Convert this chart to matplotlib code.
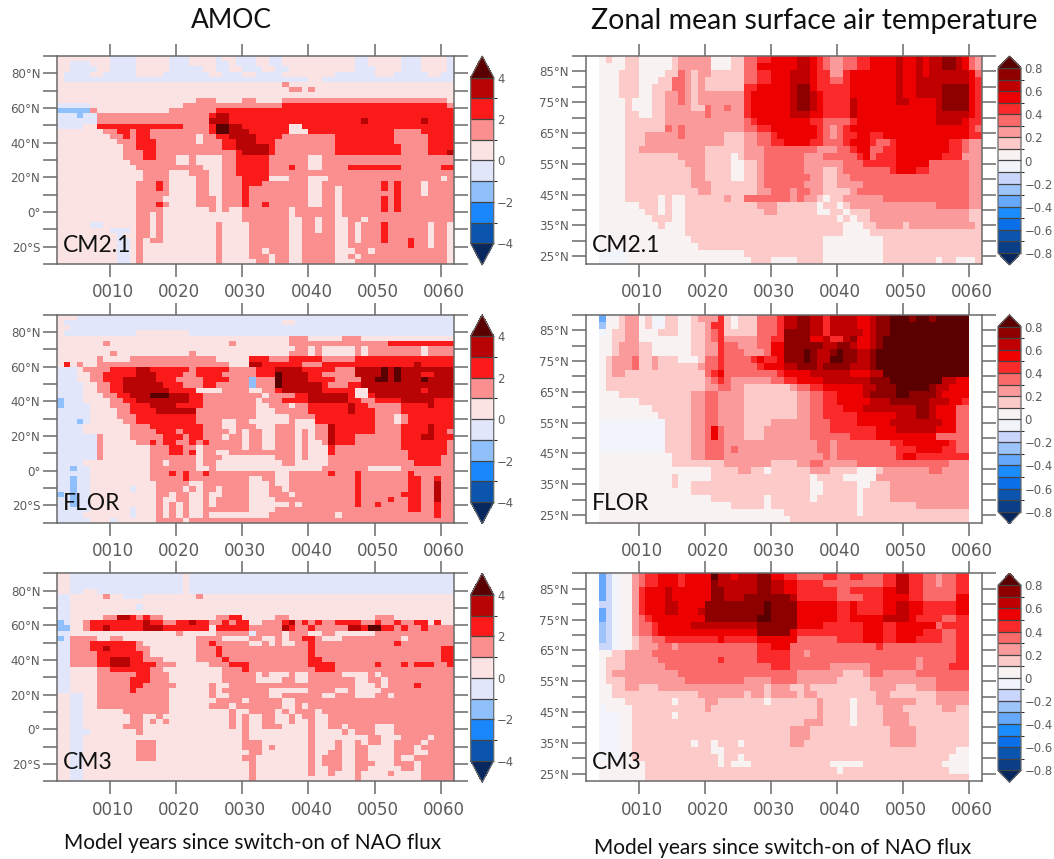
import numpy as np
import matplotlib
matplotlib.use("Agg")
import matplotlib.pyplot as plt
from matplotlib.colors import BoundaryNorm, ListedColormap
from matplotlib.transforms import ScaledTranslation

# each row runs north to south, tokens are <level code><last year of that run>
AMOC_CM21 = [
    "p10 b14 p19 b22 p26 b27 p29 b32 p34 b36 p47 b49 p54 b57 p61 b62",
    "p4 b7 p10 b14 p19 b22 p26 b28 p29 b32 p34 b36 p47 b49 p54 b57 p61 b62",
    "p4 b8 p10 b14 p19 b24 p26 b28 p30 b33 p35 b37 p47 b50 p54 b57 p61 b62",
    "p3 b7 p9 b14 p18 b25 p27 b30 p32 b36 p44 b50 p53 b58 p60 b62",
    "p3 b40 p42 b62",
    "p36 m37 p62",
    "p37 m39 p40 m41 p62",
    "p62",
    "p23 m26 p30 m32 p36 m61 p62",
    "b7 p21 m36 r61 m62",
    "l7 m8 p19 m26 r62",
    "b5 l6 b8 m25 r26 d28 r62",
    "b8 m25 d28 r48 d49 r57 d58 r62",
    "b6 p8 r21 m25 r26 k28 d30 r37 p39 r62",
    "p9 m11 r13 m14 r16 m25 r26 k28 d31 r37 p40 r53 m57 r62",
    "p10 m12 r13 m14 r16 m23 p24 m26 r28 d32 r36 m44 r53 m58 r62",
    "p11 m14 r17 m23 p24 m27 r29 d32 r35 m44 r53 m58 r62",
    "p12 m14 r17 m27 r29 d34 r35 m44 r54 m58 r62",
    "p12 m15 r17 m29 r30 d34 r35 m44 r54 m58 r61 d62",
    "p12 m15 r17 m20 p22 m23 p27 m29 r34 m40 p42 m62",
    "p13 m20 p22 m23 p27 m29 r34 m40 p42 m62",
    "p14 m24 p27 m29 r34 m37 r38 m40 p42 m46 r54 m60 r62",
    "p15 m19 p22 m25 p27 m29 r34 m62",
    "p15 m19 p23 m25 p27 m30 r34 p37 m40 p43 m60 p61 m62",
    "p14 m17 r18 m19 p23 m25 p27 m30 r33 m40 p42 m51 r52 m53 r54 m57 p58 m62",
    "p14 m17 r18 m19 p23 m25 p27 m30 r31 m40 p42 m44 p45 m51 r52 m53 r54 m57 p58 m62",
    "p14 m19 p23 m25 p27 m30 r31 m40 p42 m44 p45 m53 r54 m57 p58 m62",
    "p14 m18 p23 m26 p27 m30 r31 m40 p42 m44 p45 m51 r52 m53 r54 m62",
    "p14 m17 r18 m19 p23 m26 p27 m30 r31 m33 r34 m40 p42 m44 p45 m51 r52 m53 r54 m62",
    "p14 m18 p25 m26 p27 m28 p30 m37 p38 m44 p45 m51 r52 m53 r54 m62",
    "p14 m16 p17 m18 p30 m37 p38 m44 p45 m62",
    "p14 m16 p17 m18 p30 m37 p39 m41 p42 m44 p46 m48 p49 m62",
    "p7 b9 p14 m16 p17 m18 p26 m27 p31 m37 p39 m41 p42 m44 p46 m47 p48 m51 r52 m58 p59 m61 p62",
    "p10 b13 p14 m16 p17 m18 p26 m27 p31 m37 p39 m41 p42 m44 p46 m47 p48 m51 r52 m58 p59 m61 p62",
    "p11 b12 p14 m16 p17 m18 p26 m27 p31 m37 p39 m44 p46 m47 p48 m51 r52 m58 p59 m61 p62",
    "p11 b13 p14 m15 p16 m18 p26 m27 p31 m37 p39 m44 p46 m47 p48 m51 r52 m55 r56 m58 p59 m61 p62",
    "p11 b13 p14 m15 p26 m27 p31 m37 p39 m44 p46 m55 r56 m58 p59 m61 p62",
    "p11 b13 p14 m15 p26 m27 p31 m33 p34 m37 p39 m44 p47 m49 p50 m61 p62",
    "p11 b13 p14 m15 p26 m27 p31 m34 p35 m37 p39 m44 p46 m47 p48 m61 p62",
    "p11 b13 p14 m15 p26 m27 p32 m34 p35 m37 p39 m44 p47 m61 p62",
]

AMOC_FLOR = [
    "p5 b62",
    "p3 b36 p38 b62",
    "p4 b62",
    "p3 b14 p22 b62",
    "p37 m40 p45 m48 p62",
    "p9 m10 p28 m29 p37 m48 m52 r62",
    "p38 m40 p41 m42 p47 m48 p49 m57 p58 m62",
    "p10 m11 p22 m23 p37 m40 p41 m42 p47 m48 p49 m57 p58 m62",
    "p8 m9 p13 m26 p31 r34 m37 r42 m47 r62",
    "p3 r4 p5 m6 p8 m28 p31 d33 r39 m42 r56 d57 r62",
    "b5 p6 m10 r14 d16 r22 m23 r28 m32 r35 d39 r44 m47 d51 k52 d53 k54 d62",
    "b5 p7 m9 r14 d17 r21 m23 r27 m32 r35 k36 d40 r42 m47 d51 k52 d53 k54 d57 r59 d62",
    "b5 p7 m9 r12 d17 r20 m24 r28 m31 l32 m35 k36 d40 r44 m48 d50 k52 d53 k54 d57 k58 d62",
    "b6 p8 m10 r12 d18 r21 m24 r26 m31 l32 m35 k36 d42 r43 m46 r48 d62",
    "b6 p8 m10 r12 d19 r23 p27 m31 p33 m35 r36 d42 r47 p49 d57 r58 d62",
    "b6 p9 m11 r13 d16 k19 d22 r24 m27 m33 p34 m38 r40 d46 r47 p49 r50 d62",
    "l3 b6 p10 m12 r14 d22 r24 m32 p33 m36 r40 d46 r48 m50 r54 d59 r62",
    "l3 b7 p10 m13 r16 d20 r24 m32 p34 m37 p38 m40 r46 d47 r49 m54 r58 d59 r62",
    "b7 p11 m13 r17 d23 m24 m32 p35 m40 r46 d47 r50 m54 r62",
    "b7 p11 m14 r23 m32 p37 m41 r50 m53 p54 m55 r62",
    "b5 l6 b7 p12 m14 r23 m27 p29 m31 p37 m38 p41 r50 m53 p54 m55 r62",
    "b6 p13 m16 r24 m27 p29 m32 p35 m38 p41 m43 d44 r50 m54 r58 d59 r62",
    "b6 p13 m17 r20 m21 r24 m28 p29 m30 p31 m33 p35 m38 p39 m40 p41 m43 d44 r50 m54 r58 d59 r61 m62",
    "b8 m9 p13 m18 r21 m22 r24 m27 p28 m30 p31 m33 p35 m38 p39 m40 p41 m43 d44 r47 m54 r57 d59 r62",
    "b8 m9 p14 m16 r17 m18 r20 m22 r23 m24 r25 m28 m30 p31 m33 p35 m38 p39 m40 p42 m43 d44 r47 m54 r61 m62",
    "b8 m9 p16 m19 r21 m23 p24 m26 m30 p31 m33 p35 m38 p39 m40 p43 r44 m48 m54 r61 m62",
    "b8 m9 p16 m19 r21 m22 r23 p24 m26 p28 m30 m35 m38 p39 m40 p43 r44 m55 r61 m62",
    "b8 m9 p16 m23 p24 m27 p35 m38 p39 m40 p43 m55 r60 m62",
    "b6 p16 m18 p19 m23 p24 m26 p36 m38 p43 m56 r60 m62",
    "b4 l5 b7 p16 m23 p25 m26 p42 m49 p54 m62",
    "b7 p16 m19 r20 m21 r22 m24 r25 m35 p37 m43 r44 m47 r48 m55 r56 m62",
    "b4 l5 b7 p16 m21 r22 m31 p33 m35 p37 m47 r48 m55 r57 m59 r60 m62",
    "b4 l5 b7 p17 m22 p24 m31 p34 m35 p37 m47 r48 m55 r57 m59 d60 m62",
    "b4 l5 b7 p13 b14 p17 m21 p22 m23 p24 m26 p27 m31 p34 m36 p37 m47 r48 m55 r57 m59 d60 m62",
    "l3 b4 l5 b7 p14 p17 m19 p20 m22 p24 m25 p27 m31 p34 m37 p38 m47 r48 m54 r57 m59 d60 m62",
    "b4 l5 b7 p17 m18 p20 m22 p24 m25 p26 m31 p35 m37 m47 r48 m52 r53 m55 r57 m59 d60 m62",
    "b4 l5 b7 p17 m18 p19 m20 p21 m22 p24 m25 p26 m31 p37 m38 p39 m47 r48 m50 r51 m55 r57 m59 r60 m62",
    "b7 p13 b14 p17 m18 p19 m20 p21 m22 p24 m26 m31 p35 m36 m55 r57 m59 r60 m62",
    "b6 p13 b14 p17 m18 p19 m20 p21 m22 p24 m25 p34 m35 m44 p45 m59 r60 m62",
    "b7 p10 b11 p17 m21 p22 m62",
]

AMOC_CM3 = [
    "p4 b21 p22 b62",
    "p4 b21 p22 b62",
    "p4 b21 p22 b62",
    "p4 b6 p8 b21 p22 b62",
    "b4 p9 m10 p12 b15 p23 m24 p62",
    "b4 p62",
    "b4 p14 b15 p62",
    "b4 p62",
    "b4 p9 m11 d13 r14 m15 r16 m18 p26 m28 r30 p35 m37 p50 m53 p62",
    "l3 b4 p6 m7 r15 d16 r18 m20 r22 d23 r25 m27 r28 m29 r31 p33 m36 r37 d38 m39 r40 m41 r42 m44 r48 m50 r51 m53 r54 m56 r58 p59 r60 p62",
    "l4 p6 m7 r9 d10 r15 d18 r25 p26 r31 m36 d37 r38 m40 r41 m46 d48 r49 k51 r53 m54 r55 m57 r58 m62",
    "b4 p20 m21 p26 m31 b32 m36 p37 m40 p42 m44 p50 m62",
    "l3 b4 m8 p10 m12 p23 m27 p31 m33 p35 m36 p37 m39 r41 m42 p45 m54 p55 m62",
    "b4 m7 r14 m15 p23 m25 r26 m31 p33 m34 p35 m36 p38 m40 r41 m45 m53 r54 m62",
    "b4 m7 r9 d10 r14 m16 p23 m26 r27 m40 r41 m60 r62",
    "b4 m8 r15 m16 p23 m26 r27 m40 r41 m60 r62",
    "b4 m8 r10 d13 r15 m18 p23 m27 r28 m40 r42 m60 r62",
    "b4 m8 r10 d13 r17 m20 p25 m28 r31 m40 r44 m50 r51 m54 r55 m56 r59 m61 r62",
    "b4 p8 m10 r16 m18 p27 m30 r31 m41 r44 m62",
    "b4 p8 m14 r16 m19 p27 m32 p33 m34 p37 m38 p40 m45 p49 m50 p51 m62",
    "b4 p8 m13 r16 m19 p27 m32 p36 m38 p40 m47 p49 m51 p52 m62",
    "b4 p8 m13 r15 m20 p25 m26 p28 m36 m47 p50 m51 p52 m56 r57 m62",
    "b4 p8 m13 r14 m19 p25 m26 p27 m34 p40 m44 p46 m47 p51 m62",
    "p4 b6 p8 m19 p25 m26 p28 m34 p36 m42 p44 m47 p50 m52 p53 m62",
    "p4 b6 p8 m19 p26 m30 p31 m36 p38 m40 m62",
    "p4 b6 p8 m19 p25 m26 m28 p29 m36 p38 m39 p40 m62",
    "p4 b6 p12 m19 p28 m29 p31 m35 p36 m37 p38 m41 p42 m62",
    "p4 b6 p13 m15 p17 m18 p28 m29 p30 m31 p33 m35 p37 m38 p39 m41 p43 m62",
    "p4 b6 p13 m15 p16 m17 p18 m19 p28 m29 p30 m31 p33 m35 p37 m38 p40 m41 p43 m62",
    "p4 b6 p12 m15 p28 m29 p30 m31 p33 m36 p40 m41 p43 m45 p46 m50 p53 m62",
    "p4 b7 p14 m15 p30 m31 p40 m41 p45 m46 p47 m50 p53 m62",
    "p4 b6 p30 m31 p40 m41 p49 m51 p54 m58 p59 m62",
    "p4 b6 p14 m17 p30 m33 p40 m41 p44 m45 p47 m48 p49 m51 p53 m57 p58 m62",
    "p4 b6 p14 m17 p30 m33 p34 m35 p40 m41 p44 m45 p47 m49 p53 m56 p57 m62",
    "p4 b6 p14 m17 p31 m33 p40 m41 p43 m45 p47 m49 p53 m56 p58 m62",
    "p4 b6 p14 m17 p30 m32 p40 m41 p42 m45 p47 m49 p53 m54 p56 m62",
    "p4 b6 p31 m32 p40 m41 p42 m45 p47 m50 p53 m56 p57 m62",
    "p4 b6 p31 m32 p40 m41 p43 m45 p47 m49 p54 m56 p57 m62",
    "p4 b6 p31 m32 p40 m41 p43 m44 p47 m48 p52 m53 p57 m62",
    "p4 b6 p31 m32 p41 p47 m48 p57 m62",
]

SAT_CM21 = [
    "w4 05 16 08 110 015 116 221 024 126 328 430 534 636 537 438 339 241 343 445 549 650 552 653 554 656 758 659 560 361 262",
    "w4 08 110 015 116 221 024 126 328 530 534 636 537 438 339 241 343 445 549 650 552 653 554 656 758 659 560 361 262",
    "w4 07 110 014 116 317 218 119 221 126 328 430 533 636 537 439 339 241 442 545 549 650 552 653 554 656 660 561 362",
    "w4 07 110 013 115 317 218 119 220 126 328 430 533 636 537 439 239 341 442 545 549 650 552 654 656 660 561 462",
    "w4 07 110 012 115 317 218 119 220 126 428 533 634 736 537 439 339 442 549 650 552 654 656 757 760 561 462",
    "w4 07 110 012 114 216 317 218 119 226 427 533 634 736 637 538 439 339 442 545 549 650 552 654 656 760 561 462",
    "w4 08 109 012 114 216 317 218 119 226 427 528 533 634 736 637 538 439 339 442 643 549 651 552 555 656 760 561 462",
    "w4 08 109 012 114 218 119 120 321 223 324 226 427 528 533 634 736 637 538 439 339 442 643 545 552 555 656 760 561 462",
    "w4 08 110 012 114 220 321 226 427 530 533 636 538 439 339 442 643 555 656 660 561 462",
    "w4 08 112 114 216 226 327 428 532 536 438 339 342 443 545 555 656 659 560 461 462",
    "w4 08 112 114 315 216 317 226 328 430 534 537 438 339 240 341 442 545 555 560 461 362",
    "w4 08 111 216 317 223 126 228 330 431 535 537 438 339 240 341 443 545 447 549 560 462",
    "w4 08 111 223 126 228 330 432 536 438 339 341 442 545 446 348 449 557 459 360 262",
    "w4 08 110 220 126 229 337 240 341 342 443 545 347 449 557 459 360 262",
    "w4 08 116 220 124 025 126 229 335 238 340 343 444 545 346 449 556 457 459 359 260 262",
    "w4 08 117 220 124 026 128 229 335 241 344 449 554 360 262",
    "w4 08 118 220 124 026 128 229 335 238 140 241 344 348 449 552 454 360 262",
    "w4 08 118 220 124 026 128 229 336 238 140 242 345 360 262",
    "w4 08 118 221 126 128 229 334 335 238 140 242 244 346 360 262",
    "w4 08 119 221 128 230 333 234 336 238 140 142 243 344 360 262",
    "w4 08 113 014 115 017 123 224 126 328 333 234 335 237 138 039 141 243 247 360 262",
    "w4 010 113 014 115 017 128 231 134 232 137 038 140 041 142 244 255 360 262",
    "w4 011 113 014 115 017 129 231 137 039 141 042 143 145 247 255 260 162",
    "w4 012 114 115 017 140 041 142 043 145 249 260 162",
    "w4 013 114 015 017 141 044 146 250 151 256 261 162",
    "w4 017 141 045 162",
    "w4 018 138 040 047 162",
    "w4 019 138 047 162",
    "w4 a8 026 138 047 162",
    "w4 a8 027 130 034 138 047 155 056 158 061 162",
]

SAT_FLOR = [
    "w4 d5 07 18 210 011 112 a14 116 018 119 221 222 423 124 025 128 331 432 634 736 637 638 439 640 643 545 646 748 849 851 752 854 755 860 w62",
    "w4 c5 07 18 210 011 112 a14 116 018 120 221 423 124 025 128 331 432 634 736 637 638 439 640 643 545 646 748 860 w62",
    "w4 a5 06 18 210 011 013 116 018 120 221 322 423 124 128 331 432 734 736 638 439 640 644 545 646 748 860 w62",
    "w4 06 18 210 011 015 018 120 221 322 423 224 228 330 432 734 736 538 639 441 642 743 545 646 747 860 w62",
    "w4 06 17 210 112 013 016 018 120 222 423 325 228 330 532 734 736 738 640 742 643 545 646 747 860 w62",
    "w4 06 17 210 112 014 016 018 120 222 423 326 229 330 532 734 735 836 737 639 740 841 743 645 746 860 w62",
    "w4 05 16 29 310 112 213 116 019 120 322 423 327 428 529 431 532 734 735 836 737 639 841 743 645 746 847 860 w62",
    "w4 05 16 29 310 112 213 119 220 322 423 328 429 530 532 634 736 737 638 739 742 643 645 746 860 w62",
    "w4 05 16 28 120 321 422 523 324 328 331 432 536 638 642 545 647 860 w62",
    "w4 05 120 221 322 423 324 230 332 434 536 538 640 642 645 748 856 658 560 w62",
    "w4 05 120 222 324 226 133 234 336 438 540 544 646 749 854 755 657 560 w62",
    "w4 07 118 220 322 226 134 236 338 440 544 645 749 851 753 755 656 560 w62",
    "w4 010 118 220 322 226 134 236 338 440 545 648 751 754 657 559 460 w62",
    "w4 012 118 220 322 226 134 236 338 441 544 648 652 754 655 558 360 w62",
    "w4 013 118 220 322 226 134 236 338 441 443 545 549 652 754 655 558 360 w62",
    "w4 a14 118 220 322 226 130 236 339 443 548 654 656 558 360 w62",
    "w4 a14 118 220 321 522 323 226 129 236 339 446 549 655 556 558 360 w62",
    "w4 a14 118 220 321 522 323 226 129 236 338 342 446 549 555 358 360 w62",
    "w4 a14 118 220 323 228 237 339 240 342 348 450 557 458 360 w62",
    "w4 a14 118 220 323 224 325 228 237 339 240 342 349 452 556 458 360 w62",
    "w4 015 118 220 323 228 238 339 240 342 349 450 552 458 460 w62",
    "w4 015 123 230 134 236 338 240 243 349 357 260 w62",
    "w4 021 125 227 129 030 136 239 141 143 046 147 249 254 356 260 w62",
    "w4 015 116 021 136 037 141 043 046 146 248 260 w62",
    "w4 015 116 018 136 038 143 045 148 260 w62",
    "w4 018 136 038 143 044 148 250 260 w62",
    "w4 021 129 030 136 037 143 044 148 260 w62",
    "w4 024 129 030 132 143 044 152 254 260 w62",
    "w4 032 143 044 160 w62",
    "w4 033 160 w62",
]

SAT_CM3 = [
    "w4 d5 b6 a7 09 210 311 413 516 417 521 822 624 525 628 730 532 434 338 440 342 444 347 449 651 453 355 256 358 460 w62",
    "w4 d5 b6 a7 09 210 311 413 516 417 521 722 624 628 730 632 534 438 340 344 347 449 651 453 355 256 358 460 w62",
    "w4 d5 b6 a7 09 210 411 514 615 521 723 626 628 730 632 534 438 440 342 447 549 651 453 355 356 358 460 w62",
    "w4 d5 b6 a7 09 210 411 514 615 521 723 626 729 733 634 438 440 342 344 447 549 551 453 358 560 w62",
    "w4 b6 a7 09 210 411 514 616 520 723 729 830 734 540 442 543 447 549 651 553 454 458 560 w62",
    "w4 d5 b6 a7 09 210 411 514 616 519 620 723 729 830 734 540 442 543 447 549 651 553 458 560 w62",
    "w4 d5 b6 a7 09 210 311 412 520 722 728 830 734 540 442 547 651 552 454 456 358 460 w62",
    "w4 c5 b6 a7 09 210 312 413 518 623 628 734 538 444 547 449 553 555 356 458 460 w62",
    "w4 c5 b6 a7 09 210 312 413 528 733 534 444 547 449 553 455 456 358 460 w62",
    "w4 c5 b6 a7 09 110 212 314 422 523 428 534 340 444 547 449 552 454 456 358 460 w62",
    "w4 b6 a7 09 110 213 315 216 328 430 533 334 346 447 358 460 w62",
    "w4 06 18 212 328 433 335 236 346 358 460 w62",
    "w4 05 18 213 322 423 328 433 345 352 253 358 460 w62",
    "w4 05 18 214 330 433 339 245 352 253 357 460 w62",
    "w4 05 16 216 329 334 241 144 245 347 252 355 360 w62",
    "w4 05 18 217 326 230 334 240 145 255 360 w62",
    "w4 06 18 210 113 229 130 233 135 236 145 249 152 255 360 w62",
    "w4 06 119 226 127 229 130 234 135 237 138 146 248 155 260 w62",
    "w4 08 115 016 120 222 129 030 137 238 142 043 146 252 155 258 260 w62",
    "w4 a5 09 120 221 137 238 142 043 147 250 156 258 160 w62",
    "w4 a7 09 115 016 137 238 142 043 147 251 160 w62",
    "w4 a7 09 135 236 238 142 043 147 251 160 w62",
    "w4 a7 09 133 236 137 148 252 160 w62",
    "w4 a7 09 133 236 148 252 160 w62",
    "w4 a7 09 118 019 121 022 125 026 133 235 148 252 160 w62",
    "w4 a7 09 121 023 158 060 w62",
    "w4 a7 09 122 023 125 026 157 060 w62",
    "w4 07 011 122 023 124 027 139 044 156 060 w62",
    "w4 07 011 140 041 157 058 060 w62",
    "w4 011 160 w62",
]

AMOC_VALUES = {"l": -1.5, "b": -0.5, "p": 0.5, "m": 1.5, "r": 2.5, "d": 3.5, "k": 4.5}
SAT_VALUES = {"w": np.nan, "d": -0.35, "c": -0.25, "b": -0.15, "a": -0.05,
              "0": 0.05, "1": 0.15, "2": 0.25, "3": 0.35, "4": 0.45,
              "5": 0.55, "6": 0.65, "7": 0.75, "8": 0.85}

AMOC_BOUNDS = [-4, -3, -2, -1, 0, 1, 2, 3, 4]
AMOC_COLORS = ["#0b55ae", "#1a86fb", "#8fc0fb", "#e2e6fb", "#fbe3e3", "#fb8f8f", "#fb1a1a", "#b80404"]
SAT_BOUNDS = [round(-0.8 + 0.1 * i, 1) for i in range(17)]
SAT_COLORS = ["#0a3f88", "#0b55ae", "#0a6fe8", "#1a8cfb", "#66a8fb", "#9cc4fb", "#cad6fb", "#f2f4fb",
              "#f9f2f2", "#fdcaca", "#fb9a9a", "#fb6a6a", "#fb2a2a", "#ec0000", "#c00000", "#8e0000"]
UNDER_COLOR = "#06285f"
OVER_COLOR = "#5a0000"

MODEL_NAMES = ["CM2.1", "FLOR", "CM3"]
YEAR_TICKS = [10, 20, 30, 40, 50, 60]
YEAR_LABELS = ["0010", "0020", "0030", "0040", "0050", "0060"]
AMOC_LAT_TICKS = [80, 60, 40, 20, 0, -20]
AMOC_LAT_LABELS = ["80°N", "60°N", "40°N", "20°N", "0°", "20°S"]
SAT_LAT_TICKS = [85, 75, 65, 55, 45, 35, 25]
SAT_LAT_LABELS = ["85°N", "75°N", "65°N", "55°N", "45°N", "35°N", "25°N"]

W, H = 1054, 859
GREY = "#6a6a6a"
TEXT_GREY = "#5c5c5c"
UI_FONT = ["Lato", "DejaVu Sans"]


def expand(rows, values):
    grid = np.zeros((len(rows), 60))
    for i, row in enumerate(rows):
        start = 2
        last = np.nan
        for tok in row.split():
            last = values[tok[0]]
            end = int(tok[1:])
            if end > start:
                grid[i, start - 2:end - 2] = last
                start = end
        grid[i, start - 2:] = last
    return grid


def px_axes(x0, y0, x1, y1):
    return fig.add_axes([x0 / W, 1 - y1 / H, (x1 - x0) / W, (y1 - y0) / H])


def draw_panel(rect, cbar_rect, rows, values, lat_top, lat_bottom, bounds, colors,
               lat_ticks, lat_labels, minor_ticks, cbar_ticks, cbar_labels, extendfrac, name):
    ax = px_axes(*rect)
    grid = expand(rows, values)
    cmap = ListedColormap(colors)
    cmap.set_under(UNDER_COLOR)
    cmap.set_over(OVER_COLOR)
    norm = BoundaryNorm(bounds, cmap.N)
    years = np.arange(2, 63)
    lats = np.linspace(lat_top, lat_bottom, len(rows) + 1)
    mesh = ax.pcolormesh(years, lats, grid, cmap=cmap, norm=norm, shading="flat")
    ax.set_xlim(2, 62)
    ax.set_ylim(lat_bottom, lat_top)

    ax.set_xticks(YEAR_TICKS)
    ax.set_xticklabels(YEAR_LABELS, fontsize=12, color=TEXT_GREY)
    ax.set_yticks(lat_ticks)
    ax.set_yticklabels(lat_labels, fontsize=8.6, color=TEXT_GREY)
    ax.set_yticks(minor_ticks, minor=True)
    ax.tick_params(axis="x", which="major", direction="out", length=9, width=1.1, color=GREY,
                   top=True, pad=5)
    ax.tick_params(axis="y", which="both", direction="out", length=10, width=1.1, color=GREY,
                   right=True, pad=2)
    shift = ScaledTranslation(3 / 100, 0, fig.dpi_scale_trans)
    for lab in ax.get_xticklabels():
        lab.set_transform(lab.get_transform() + shift)
    for s in ax.spines.values():
        s.set_color(GREY)
        s.set_linewidth(1.1)

    fig.text((rect[0] + 6) / W, 1 - (rect[3] - 19) / H, name, fontsize=16.5, family=UI_FONT,
             color="#111111", ha="left", va="center")

    cax = px_axes(*cbar_rect)
    cb = fig.colorbar(mesh, cax=cax, extend="both", extendfrac=extendfrac, drawedges=True,
                      spacing="uniform", ticks=cbar_ticks)
    cb.ax.set_yticklabels(cbar_labels, fontsize=8.4, color=TEXT_GREY)
    cb.ax.tick_params(length=0, pad=2.5)
    cb.outline.set_edgecolor(GREY)
    cb.outline.set_linewidth(0.9)
    cb.dividers.set_color("#444444")
    cb.dividers.set_linewidth(0.9)


fig = plt.figure(figsize=(W / 100, H / 100), dpi=100)

amoc_rows = [AMOC_CM21, AMOC_FLOR, AMOC_CM3]
sat_rows = [SAT_CM21, SAT_FLOR, SAT_CM3]
row_tops = [56, 314.7, 573.3]
amoc_minor = [90, 70, 50, 30, 10, -10, -30]
sat_minor = [90, 80, 70, 60, 50, 40, 30]

for i in range(3):
    top = row_tops[i]
    draw_panel((57, top, 454, top + 208), (470.7, top, 493.7, top + 209),
               amoc_rows[i], AMOC_VALUES, 90, -30, AMOC_BOUNDS, AMOC_COLORS,
               AMOC_LAT_TICKS, AMOC_LAT_LABELS, amoc_minor,
               [-4, -2, 0, 2, 4], ["\u22124", "\u22122", "0", "2", "4"], 0.13, MODEL_NAMES[i])
    draw_panel((585.7, top, 982, top + 208), (998, top, 1021, top + 209),
               sat_rows[i], SAT_VALUES, 90, 22.5, SAT_BOUNDS, SAT_COLORS,
               SAT_LAT_TICKS, SAT_LAT_LABELS, sat_minor,
               [-0.8, -0.6, -0.4, -0.2, 0, 0.2, 0.4, 0.6, 0.8],
               ["\u22120.8", "\u22120.6", "\u22120.4", "\u22120.2", "0", "0.2", "0.4", "0.6", "0.8"],
               0.065, MODEL_NAMES[i])

fig.text(231 / W, 1 - 21 / H, "AMOC", fontsize=19, family=UI_FONT, color="#111111", ha="center", va="center")
fig.text(814 / W, 1 - 21 / H, "Zonal mean surface air temperature", fontsize=20.5, family=UI_FONT,
         color="#111111", ha="center", va="center")
fig.text(253 / W, 1 - 843 / H, "Model years since switch-on of NAO flux", fontsize=15, family=UI_FONT,
         color="#111111", ha="center", va="center")
fig.text(783 / W, 1 - 848 / H, "Model years since switch-on of NAO flux", fontsize=15, family=UI_FONT,
         color="#111111", ha="center", va="center")

fig.savefig("out.png", dpi=100)
